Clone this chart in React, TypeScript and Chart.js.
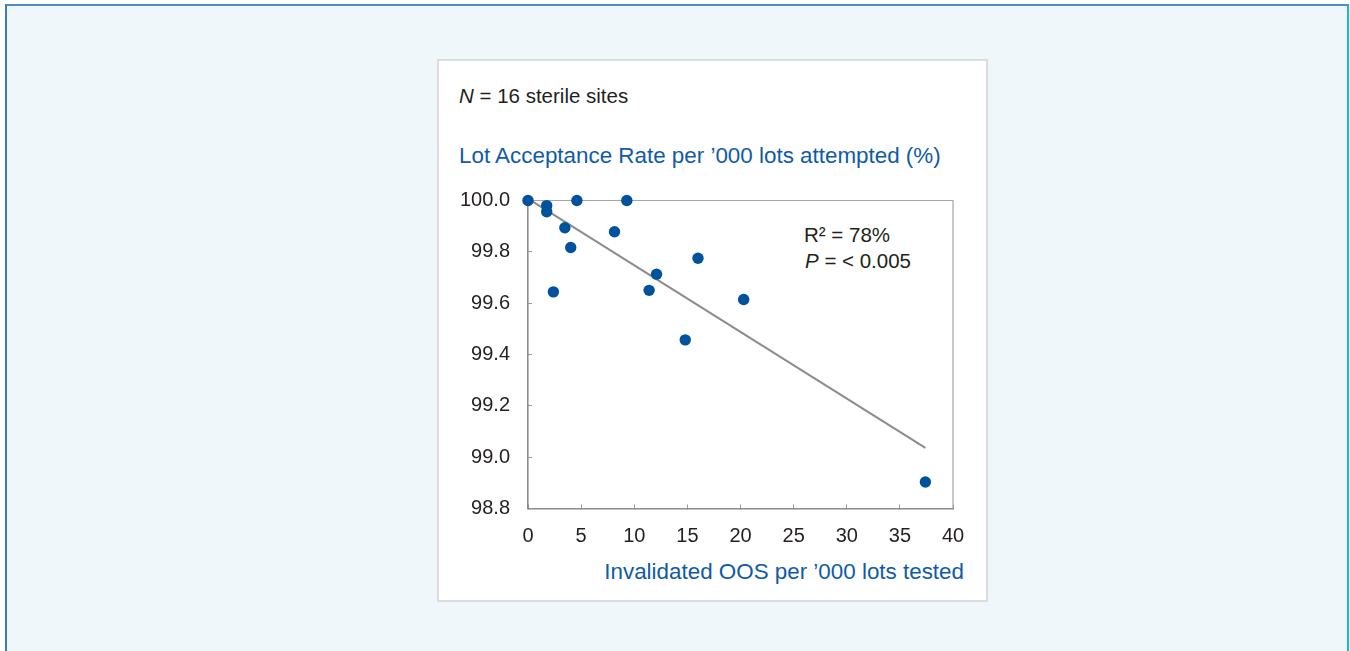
import React, { useEffect, useRef } from 'react';
import { Chart, registerables } from 'chart.js';

Chart.register(...registerables);

// ---- Data ----
const invalidatedOOS = [0, 1.76, 1.76, 2.39, 3.47, 4.02, 4.6, 8.14, 9.3, 11.4, 12.1, 14.8, 16.0, 20.3, 37.4];
const lotAcceptance = [100.0, 99.98, 99.956, 99.644, 99.894, 99.817, 100.0, 99.878, 100.0, 99.65, 99.713, 99.457, 99.775, 99.614, 98.903];

const xMin = 0;
const xMax = 40;
const xStep = 5;
const yMin = 98.8;
const yMax = 100;
const yStep = 0.2;

const sampleLabel = ' = 16 sterile sites';
const yTitle = 'Lot Acceptance Rate per \u2019000 lots attempted (%)';
const xTitle = 'Invalidated OOS per \u2019000 lots tested';
const r2Label = 'R\u00B2 = 78%';
const pLabel = ' = < 0.005';

const FONT = '"Liberation Sans", Arial, Helvetica, sans-serif';
const BLUE_TEXT = '#0F5BA7';
const DARK_TEXT = '#231F20';
const DOT = '#00529C';

function leastSquares(xs: number[], ys: number[]) {
  const n = xs.length;
  const mx = xs.reduce((a, b) => a + b, 0) / n;
  const my = ys.reduce((a, b) => a + b, 0) / n;
  let sxy = 0;
  let sxx = 0;
  for (let i = 0; i < n; i++) {
    sxy += (xs[i] - mx) * (ys[i] - my);
    sxx += (xs[i] - mx) * (xs[i] - mx);
  }
  const slope = sxy / sxx;
  return { slope, intercept: my - slope * mx };
}

const framePlugin = {
  id: 'plotFrame',
  beforeDatasetsDraw(chart: any) {
    const { ctx, chartArea } = chart;
    const { left, right, top, bottom } = chartArea;
    ctx.save();
    ctx.strokeStyle = '#A6A6A6';
    ctx.lineWidth = 1.2;
    ctx.beginPath();
    ctx.moveTo(left, top);
    ctx.lineTo(right, top);
    ctx.lineTo(right, bottom);
    ctx.stroke();
    ctx.restore();
  },
};

export default function App() {
  const canvasRef = useRef<HTMLCanvasElement | null>(null);

  useEffect(() => {
    const canvas = canvasRef.current;
    if (!canvas) return;
    const points = invalidatedOOS.map((x, i) => ({ x, y: lotAcceptance[i] }));
    const { slope, intercept } = leastSquares(invalidatedOOS, lotAcceptance);
    const lo = Math.min(...invalidatedOOS);
    const hi = Math.max(...invalidatedOOS);
    const trend = [
      { x: lo, y: intercept + slope * lo },
      { x: hi, y: intercept + slope * hi },
    ];

    const tickFont = { family: FONT, size: 20 };

    const chart = new Chart(canvas, {
      type: 'scatter',
      data: {
        datasets: [
          {
            label: 'Sites',
            data: points,
            backgroundColor: DOT,
            borderColor: DOT,
            borderWidth: 0,
            pointRadius: 5.7,
            pointHoverRadius: 5.7,
            order: 1,
            clip: false,
          } as any,
          {
            type: 'line',
            label: 'Trend',
            data: trend,
            borderColor: '#8C8C8C',
            borderWidth: 2,
            pointRadius: 0,
            showLine: true,
            fill: false,
            order: 2,
            clip: false,
          } as any,
        ],
      },
      options: {
        responsive: false,
        animation: false,
        devicePixelRatio: 1,
        layout: { padding: { left: 448, right: 397, top: 200.5, bottom: 53 } },
        plugins: {
          legend: { display: false },
          tooltip: { enabled: false },
          title: { display: false },
        },
        scales: {
          x: {
            type: 'linear',
            min: xMin,
            max: xMax,
            afterFit: (scale: any) => {
              scale.height = 89.5;
            },
            ticks: {
              stepSize: xStep,
              color: DARK_TEXT,
              font: tickFont,
              padding: 19.5,
              autoSkip: false,
              maxRotation: 0,
            },
            grid: {
              drawOnChartArea: false,
              drawTicks: true,
              tickLength: -4,
              color: '#9A9A9A',
              lineWidth: 1,
            },
            border: { display: true, color: '#8C8C8C', width: 1.6 },
          },
          y: {
            type: 'linear',
            min: yMin,
            max: yMax,
            afterFit: (scale: any) => {
              scale.width = 80;
            },
            ticks: {
              stepSize: yStep,
              color: DARK_TEXT,
              font: { family: FONT, size: 20, lineHeight: 1.4 },
              padding: 22,
              autoSkip: false,
              callback: (v: any) => Number(v).toFixed(1),
            },
            grid: {
              drawOnChartArea: false,
              drawTicks: true,
              tickLength: -4,
              color: '#9A9A9A',
              lineWidth: 1,
            },
            border: { display: true, color: '#8C8C8C', width: 1.6 },
          },
        },
      },
      plugins: [framePlugin],
    } as any);

    return () => chart.destroy();
  }, []);

  const textBase: React.CSSProperties = {
    position: 'absolute',
    fontFamily: FONT,
    whiteSpace: 'nowrap',
    margin: 0,
  };

  return (
    <div
      style={{
        position: 'fixed',
        left: 0,
        top: 0,
        width: 1350,
        height: 651,
        background: '#FFFFFF',
        overflow: 'hidden',
        fontFamily: FONT,
      }}
    >
      <div
        style={{
          position: 'absolute',
          left: 5,
          top: 4,
          width: 1344,
          height: 700,
          boxSizing: 'border-box',
          background: '#F0F7FB',
          borderTop: '2px solid #4A8CC3',
          borderLeft: '2px solid #3A7BB8',
          borderRight: '2px solid #1DB2E5',
        }}
      />
      <div
        style={{
          position: 'absolute',
          left: 437,
          top: 59,
          width: 551,
          height: 543,
          boxSizing: 'border-box',
          background: '#FFFFFF',
          border: '2px solid #DCDCDC',
        }}
      />
      <div style={{ ...textBase, left: 459, top: 86, fontSize: 20.5, lineHeight: '20.5px', color: DARK_TEXT }}>
        <i>N</i>
        {sampleLabel}
      </div>
      <div style={{ ...textBase, left: 459, top: 145, fontSize: 22.4, lineHeight: '22.4px', color: BLUE_TEXT }}>
        {yTitle}
      </div>
      <div style={{ ...textBase, right: 386, top: 561, fontSize: 22.4, lineHeight: '22.4px', color: BLUE_TEXT }}>
        {xTitle}
      </div>
      <div style={{ ...textBase, left: 804, top: 224.5, fontSize: 20.5, lineHeight: '20.5px', color: DARK_TEXT }}>
        {r2Label}
      </div>
      <div style={{ ...textBase, left: 805, top: 251, fontSize: 20.5, lineHeight: '20.5px', color: DARK_TEXT }}>
        <i>P</i>
        {pLabel}
      </div>
      <canvas
        ref={canvasRef}
        width={1350}
        height={651}
        style={{ position: 'absolute', left: 0, top: 0, width: 1350, height: 651, pointerEvents: 'none' }}
      />
    </div>
  );
}
